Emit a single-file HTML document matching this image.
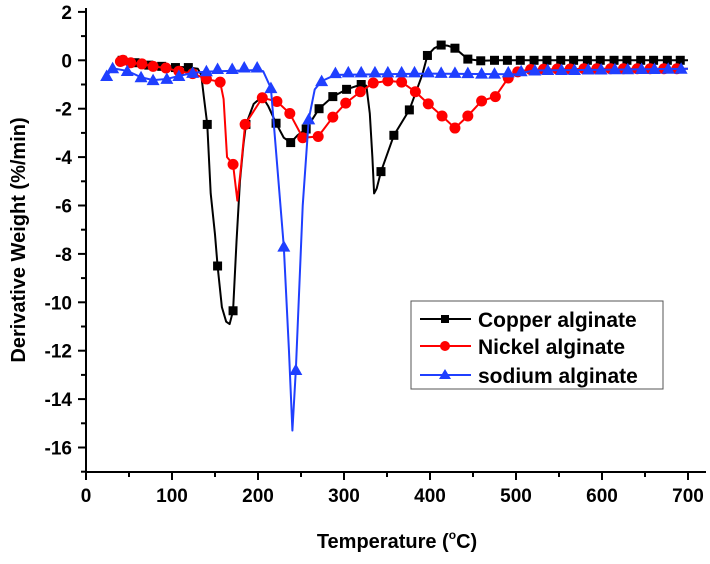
<!DOCTYPE html>
<html><head><meta charset="utf-8"><style>
body{margin:0;background:#fff}
svg text{font-family:"Liberation Sans",Arial,sans-serif;font-weight:bold}
</style></head><body>
<svg id="chart" width="710" height="559" xmlns="http://www.w3.org/2000/svg">
<g id="axes"></g>
<g id="series"></g>
<g id="legend">
<rect x="411" y="301" width="252" height="88" fill="#fff" stroke="#555" stroke-width="1"/>
<g>
<line x1="420" y1="319" x2="471" y2="319" stroke="#000" stroke-width="2"/><rect x="441" y="315" width="8" height="8" fill="#000"/>
<text x="478" y="327" font-size="21" fill="#000">Copper alginate</text></g>
<g>
<line x1="420" y1="346" x2="471" y2="346" stroke="#f00" stroke-width="2"/><circle cx="445" cy="346" r="5" fill="#f00"/>
<text x="478" y="354" font-size="21" fill="#000">Nickel alginate</text></g>
<g>
<line x1="420" y1="375" x2="471" y2="375" stroke="#1f3fff" stroke-width="2"/><polygon points="445,369 451,379 439,379" fill="#1f3fff"/>
<text x="478" y="383" font-size="21" fill="#000">sodium alginate</text></g>
</g>
<text transform="translate(25,240) rotate(-90)" text-anchor="middle" font-size="20" fill="#000">Derivative Weight (%/min)</text>
<text x="397" y="548" text-anchor="middle" font-size="20" fill="#000">Temperature (<tspan font-size="12" dy="-9">o</tspan><tspan dy="9">C)</tspan></text>
</svg>
<script>
const xTicks=[0,100,200,300,400,500,600,700];
const yTicks=[2,0,-2,-4,-6,-8,-10,-12,-14,-16];
const copperLineT=[40,60,80,100,120,130,134,137,141,145,150,153,158,163,167,171,175,179,183,186,195,205,212,221,230,238,246,256,271,287,303,320,326,330,333,335,338,343,358,376,391,397,405,413,421,429,444,459,480,520,600,700];
const copperLineV=[0,-0.1,-0.2,-0.25,-0.3,-0.35,-0.6,-1.5,-2.65,-5.5,-7.2,-8.5,-10.2,-10.8,-10.9,-10.35,-7.5,-5,-3.5,-2.65,-1.8,-1.5,-1.9,-2.6,-3.2,-3.4,-3.1,-2.84,-2.0,-1.5,-1.2,-1.0,-1.05,-2.2,-4.0,-5.5,-5.3,-4.6,-3.1,-2.05,-0.6,0.2,0.5,0.63,0.6,0.5,0.05,-0.02,0,0,0,0];
const copperMarkT=[42,57,73,88,104,119,141,153,171,186,221,238,256,271,287,303,320,343,358,376,397,413,429,444,459,475,490,505,521,536,552,567,583,598,614,629,645,660,676,691];
const copperMarkV=[0,-0.1,-0.2,-0.25,-0.3,-0.3,-2.65,-8.5,-10.35,-2.65,-2.6,-3.4,-2.84,-2.0,-1.5,-1.2,-1.0,-4.6,-3.1,-2.05,0.2,0.63,0.5,0.05,-0.02,0,0,0,0,0,0,0,0,0,0,0,0,0,0,0];
const nickelLineT=[40,43,52,65,78,93,108,124,140,156,160,164,171,176,180,185,205,222,237,252,270,287,302,319,334,351,367,383,398,414,429,444,460,476,491,502,520,600,700];
const nickelLineV=[-0.05,0,-0.1,-0.15,-0.25,-0.32,-0.45,-0.55,-0.77,-0.9,-1.6,-4.0,-4.3,-5.8,-4.5,-2.65,-1.55,-1.7,-2.2,-3.2,-3.15,-2.35,-1.77,-1.3,-0.94,-0.85,-0.9,-1.3,-1.8,-2.3,-2.8,-2.3,-1.68,-1.5,-0.73,-0.45,-0.38,-0.35,-0.35];
const nickelMarkT=[40,43,52,65,78,93,108,124,140,156,171,185,205,222,237,252,270,287,302,319,334,351,367,383,398,414,429,444,460,476,491,502,517,532,548,563,579,594,610,625,641,656,672,687];
const nickelMarkV=[-0.05,0,-0.1,-0.15,-0.25,-0.32,-0.45,-0.55,-0.77,-0.9,-4.3,-2.65,-1.55,-1.7,-2.2,-3.2,-3.15,-2.35,-1.77,-1.3,-0.94,-0.85,-0.9,-1.3,-1.8,-2.3,-2.8,-2.3,-1.68,-1.5,-0.73,-0.48,-0.38,-0.37,-0.36,-0.36,-0.35,-0.35,-0.35,-0.35,-0.35,-0.35,-0.35,-0.35];
const sodiumLineT=[24,31,48,64,78,94,108,124,140,200,206,215,230,236,240,244,252,259,266,274,290,400,500,520,700];
const sodiumLineV=[-0.65,-0.33,-0.44,-0.7,-0.82,-0.77,-0.65,-0.52,-0.47,-0.4,-0.45,-1.15,-7.7,-12,-15.3,-12.8,-6,-2.44,-1.2,-0.86,-0.6,-0.55,-0.58,-0.42,-0.35];
const sodiumMarkT=[24,31,48,64,78,94,108,124,140,153,170,184,199,215,230,244,259,274,290,305,320,336,351,367,382,398,413,429,444,460,475,491,506,522,537,553,568,584,599,615,630,646,661,677,692];
const sodiumMarkV=[-0.65,-0.33,-0.44,-0.7,-0.82,-0.77,-0.65,-0.52,-0.45,-0.36,-0.36,-0.3,-0.3,-1.15,-7.7,-12.8,-2.44,-0.86,-0.53,-0.5,-0.5,-0.5,-0.5,-0.5,-0.5,-0.5,-0.52,-0.52,-0.53,-0.55,-0.55,-0.5,-0.45,-0.42,-0.4,-0.4,-0.4,-0.38,-0.38,-0.37,-0.37,-0.36,-0.36,-0.35,-0.35];

const NS='http://www.w3.org/2000/svg';
const X0=86,PXT=0.86,Y0=60.3,PXV=24.2;
function xs(t){return X0+t*PXT;}
function ys(v){return Y0-v*PXV;}
function mk(tag,attrs,parent){const e=document.createElementNS(NS,tag);for(const k in attrs)e.setAttribute(k,attrs[k]);parent.appendChild(e);return e;}
const axes=document.getElementById('axes');
let a=mk('line',{x1:X0,y1:8,x2:X0,y2:472,stroke:'#000','stroke-width':2},axes);


a=mk('line',{x1:X0-1,y1:472,x2:706,y2:472,stroke:'#000','stroke-width':2},axes);


for(let t=0;t<=700;t+=50){const maj=t%100===0;const l=mk('line',{x1:xs(t),y1:472,x2:xs(t),y2:maj?480:477,stroke:'#000','stroke-width':2},axes);

}
xTicks.forEach(t=>{const e=mk('text',{x:xs(t),y:502,'text-anchor':'middle','font-size':19,fill:'#000'},axes);e.textContent=t;

});
for(let v=2;v>=-17;v--){const maj=v%2===0;const l=mk('line',{x1:maj?X0-8:X0-5,y1:ys(v),x2:X0,y2:ys(v),stroke:'#000','stroke-width':2},axes);

}
yTicks.forEach(v=>{const e=mk('text',{x:72,y:ys(v)+7,'text-anchor':'end','font-size':19,fill:'#000'},axes);e.textContent=v;

});
const ser=document.getElementById('series');
function draw(name,color,LT,LV,MT,MV,shape){
 const g=mk('g',{},ser);
 
 
 const p=mk('polyline',{points:LT.map((t,i)=>xs(t)+','+ys(LV[i])).join(' '),fill:'none',stroke:color,'stroke-width':2,'stroke-linejoin':'round'},g);
 
 
 MT.forEach((t,i)=>{const x=xs(t),y=ys(MV[i]);let m;
  if(shape==='sq')m=mk('rect',{x:x-4.5,y:y-4.5,width:9,height:9,fill:color},g);
  else if(shape==='ci')m=mk('circle',{cx:x,cy:y,r:5.5,fill:color},g);
  else m=mk('polygon',{points:`${x},${y-6.5} ${x+6.5},${y+5} ${x-6.5},${y+5}`,fill:color},g);
  
  });
}
draw('copper','#000',copperLineT,copperLineV,copperMarkT,copperMarkV,'sq');
draw('nickel','#f00',nickelLineT,nickelLineV,nickelMarkT,nickelMarkV,'ci');
draw('sodium','#1f3fff',sodiumLineT,sodiumLineV,sodiumMarkT,sodiumMarkV,'tr');
</script>
</body></html>
